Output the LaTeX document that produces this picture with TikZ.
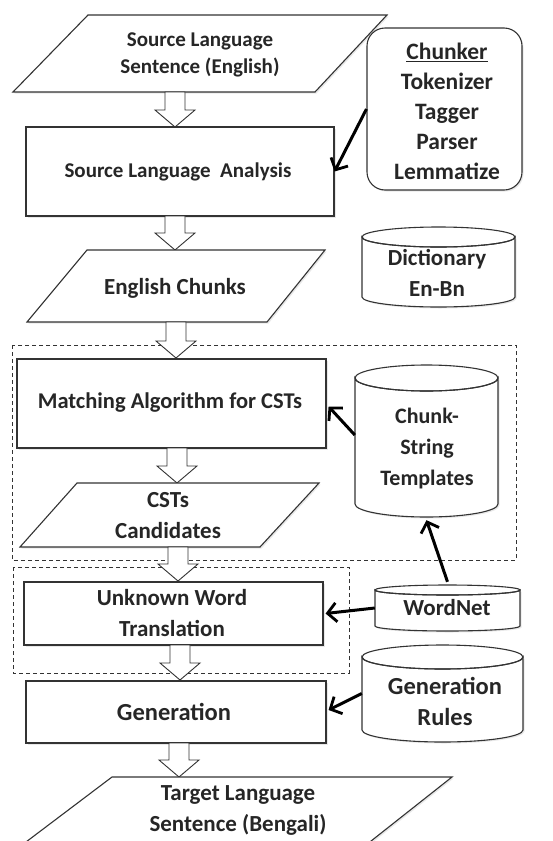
\documentclass[tikz,border=0pt]{standalone}
\usepackage{fontspec}
\setmainfont{Carlito}
\usetikzlibrary{arrows.meta,calc,shadows}
\tikzset{
  shp/.style={draw=black!80, line width=1.1pt, fill=white,
     drop shadow={shadow xshift=1.5pt, shadow yshift=-1.5pt, opacity=0.18}},
  boxnode/.style={shp, inner sep=0},
  txt/.style={font=\bfseries\fontsize{23}{31}\selectfont, align=center, inner sep=0, text=black!85},
  txtS/.style={txt, font=\bfseries\fontsize{21}{27}\selectfont},
  txtL/.style={txt, font=\bfseries\fontsize{24.5}{31}\selectfont},
  blk/.style={draw=black!80, line width=0.9pt, fill=white},
  conn/.style={line width=3pt, draw=black, -{Straight Barb[length=9pt,width=19pt,line width=2.8pt]}},
  dbox/.style={draw=black!80, line width=0.9pt, dash pattern=on 4pt off 3pt},
  ghost/.style={inner sep=0, draw=none}
}
\newcommand\blkarrow[3]{%
  \draw[blk] (#1-10,#2) -- (#1+10,#2) -- (#1+10,#3-17) -- (#1+20,#3-17) -- (#1,#3)
    -- (#1-20,#3-17) -- (#1-10,#3-17) -- cycle;}
\newcommand\cylshape[5]{% x1 x2 ytopcenter ybot ry
  \filldraw[shp] (#1,#3) -- (#1,#4) arc[start angle=180,end angle=0,x radius={(#2-#1)/2},y radius=#5]
     -- (#2,#3) arc[start angle=0,end angle=180,x radius={(#2-#1)/2},y radius=#5] -- cycle;
  \draw[draw=black!80, line width=1.1pt] ({(#1+#2)/2},#3) ellipse[x radius={(#2-#1)/2},y radius=#5];}
\begin{document}
\begin{tikzpicture}[x=1pt,y=-1pt]
\useasboundingbox (0,0) rectangle (553,841);
\clip (0,0) rectangle (553,841);
\fill[white] (0,0) rectangle (553,841);

% dashed groups
\draw[dbox] (12,345) rectangle (516,560);
\draw[dbox] (13,567) rectangle (349,673);

% 1 source sentence
\filldraw[shp] (88,15) -- (387,15) -- (315,92) -- (13,92) -- cycle;
\node[txtS] (src) at (200,54.5) {Source Language\\Sentence (English)};
\blkarrow{175}{92}{127}

% 2 analysis
\node[boxnode, minimum width=308, minimum height=89] (sla) at (180,171.5) {};
\node[txtS] (slat) at (178,172) {Source Language\ \ Analysis};
\blkarrow{175}{216}{250}

% chunker
\node[boxnode, rounded corners=18pt, minimum width=155, minimum height=162] (chunker) at (444.5,109) {};
\node[txt, font=\bfseries\fontsize{23.5}{30}\selectfont] (chunkt) at (447,111) {\underline{Chunker}\\Tokenizer\\Tagger\\Parser\\Lemmatize};

% dictionary
\cylshape{362}{515}{237}{297}{10}
\node[ghost, minimum width=153, minimum height=80] (dict) at (438.5,267) {};
\node[txt] (dictt) at (437,272.5) {Dictionary\\En-Bn};

% 3 english chunks
\filldraw[shp] (87,250) -- (325,250) -- (267,322) -- (27,322) -- cycle;
\node[txt] (ech) at (175,288) {English Chunks};
\blkarrow{176}{322}{358}

% 4 matching
\node[boxnode, minimum width=309, minimum height=89] (match) at (171.5,403.5) {};
\node[txt, font=\bfseries\fontsize{22.5}{31}\selectfont] (matcht) at (170,403) {Matching Algorithm for CSTs};
\blkarrow{177}{448}{483}

% CST templates
\cylshape{355}{498}{378}{504}{13}
\node[ghost, minimum width=143, minimum height=152] (cst) at (426.5,441) {};
\node[txt, font=\bfseries\fontsize{22}{31}\selectfont] (cstt) at (427,449) {Chunk-\\String\\Templates};

% 5 candidates
\filldraw[shp] (77,483) -- (319,483) -- (260,547) -- (20,547) -- cycle;
\node[txt] (cand) at (168,516) {CSTs\\Candidates};
\blkarrow{178}{547}{581}

% 6 unknown word
\node[boxnode, minimum width=299, minimum height=63] (unk) at (173.5,613.5) {};
\node[txt] (unkt) at (172,613) {Unknown Word\\Translation};
\blkarrow{180}{645}{680}

% wordnet
\cylshape{375}{520}{590}{626}{5}
\node[ghost, minimum width=145, minimum height=46] (wn) at (447.5,608) {};
\node[txt] (wnt) at (447,608) {WordNet};

% 7 generation
\node[boxnode, minimum width=300, minimum height=62] (gen) at (176,712) {};
\node[txtL] (gent) at (174,712) {Generation};
\blkarrow{179}{743}{777}

% generation rules
\cylshape{362}{523}{657}{730}{12}
\node[ghost, minimum width=161, minimum height=97] (gr) at (442.5,693.5) {};
\node[txtL] (grt) at (445,701.5) {Generation\\Rules};

% 8 target
\filldraw[shp] (112,777) -- (452,777) -- (366,845) -- (22,845) -- cycle;
\node[txt] (tgt) at (238,810) {Target Language\\Sentence (Bengali)};

% connectors
\draw[conn] (chunker.west) -- (sla.east);
\draw[conn] ($(cst.west)+(0,-6)$) -- ($(match.east)+(2,3)$);
\draw[conn] (wn.west) -- ($(unk.east)+(2,0)$);
\draw[conn] ($(wn.north)+(0,-3)$) -- ($(cst.south)+(0,3)$);
\draw[conn] (gr.west) -- ($(gen.east)+(2,-2)$);
\end{tikzpicture}
\end{document}
